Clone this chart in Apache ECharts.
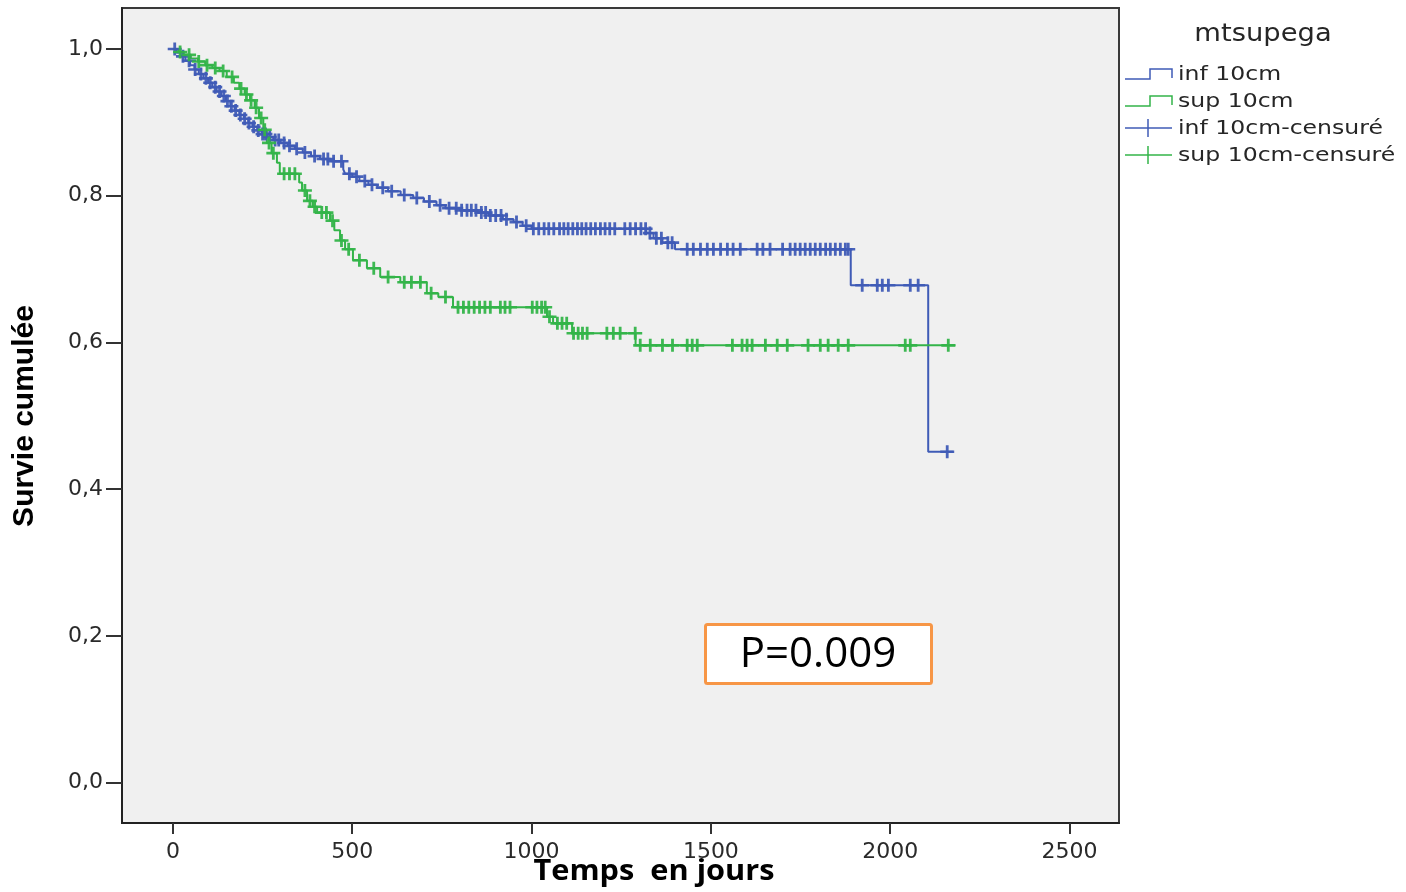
<!DOCTYPE html>
<html><head><meta charset="utf-8">
<script src="https://cdn.jsdelivr.net/npm/echarts@6/dist/echarts.min.js"></script>
<style>html,body{margin:0;padding:0;background:#fff}#c{width:1406px;height:892px}</style>
</head><body><div id="c"></div>
<script>
const xTicks=[0,500,1000,1500,2000,2500];
const yTicks=[0,0.2,0.4,0.6,0.8,1.0];
const seriesNames=['inf 10cm','sup 10cm','inf 10cm-censuré','sup 10cm-censuré'];
const blueTimes=[0,10,22,35,48,60,72,85,98,110,122,135,148,160,172,185,198,210,222,235,248,262,280,300,320,340,362,385,410,440,475,480,500,520,545,570,600,635,670,700,735,760,800,850,880,920,950,975,1000,1320,1340,1365,1400,1890,2106,2176];
const blueSurv=[1.000,0.995,0.990,0.984,0.978,0.972,0.966,0.960,0.954,0.948,0.942,0.936,0.929,0.922,0.916,0.910,0.905,0.899,0.894,0.889,0.884,0.880,0.876,0.872,0.868,0.864,0.859,0.854,0.850,0.847,0.836,0.830,0.826,0.820,0.815,0.811,0.806,0.801,0.797,0.792,0.787,0.783,0.780,0.777,0.773,0.768,0.764,0.759,0.755,0.749,0.742,0.736,0.727,0.678,0.451,0.451];
const greenTimes=[0,15,30,50,70,90,110,130,150,170,185,200,215,228,240,252,262,275,290,298,352,360,374,390,402,438,450,466,480,502,541,578,634,708,740,781,1043,1060,1113,1290,2182];
const greenSurv=[1.000,0.996,0.992,0.987,0.983,0.978,0.974,0.970,0.962,0.954,0.946,0.938,0.930,0.920,0.906,0.890,0.872,0.858,0.845,0.830,0.818,0.807,0.793,0.785,0.777,0.766,0.753,0.739,0.727,0.712,0.701,0.689,0.682,0.667,0.662,0.648,0.635,0.626,0.6125,0.596,0.596];
const blueCensor=[5,28,45,62,78,92,104,118,130,142,152,163,175,188,200,212,225,238,250,258,270,285,295,310,325,345,368,395,420,432,448,470,492,512,535,555,585,610,645,680,715,745,770,790,805,820,832,845,860,872,885,900,915,930,958,985,1005,1020,1035,1048,1062,1078,1090,1102,1115,1128,1140,1152,1165,1178,1192,1205,1218,1232,1260,1275,1290,1305,1318,1330,1348,1362,1380,1392,1434,1451,1471,1490,1507,1527,1546,1562,1582,1629,1645,1665,1700,1721,1735,1749,1763,1777,1791,1805,1820,1833,1847,1861,1875,1883,1922,1964,1978,1995,2056,2078,2159];
const greenCensor=[20,45,72,95,118,140,165,190,205,218,232,246,256,268,280,310,325,340,368,382,395,415,428,445,470,490,520,560,600,645,665,690,720,760,795,810,825,840,855,870,885,913,926,940,1002,1015,1028,1038,1050,1072,1085,1098,1117,1130,1142,1155,1210,1228,1247,1289,1303,1331,1365,1393,1434,1448,1462,1560,1587,1601,1615,1652,1685,1713,1771,1805,1827,1855,1883,2042,2056,2162];

const BLUE='#3F5BB6', GREEN='#33B449';
function survAt(times,surv,t){let s=surv[0];for(let i=0;i<times.length;i++){if(times[i]<=t)s=surv[i];else break;}return s;}
const zip=(a,b)=>a.map((v,i)=>[v,b[i]]);
const cross='path://M4,0H6V4H10V6H6V10H4V6H0V4H4Z';

const chart=echarts.init(document.getElementById('c'),null,{renderer:'canvas'});
const txt={fontFamily:'DejaVu Sans',fontSize:22,color:'#2a2a2a'};
chart.setOption({
  animation:false,
  backgroundColor:'#fff',
  grid:{left:122,top:8,right:287,bottom:69,show:true,backgroundColor:'#F0F0F0',borderColor:'#3a3a3a',borderWidth:2},
  xAxis:{type:'value',min:-142,max:2638,
    axisLine:{show:true,onZero:false,lineStyle:{color:'#222',width:2}},
    axisTick:{show:true,length:11,customValues:xTicks,lineStyle:{color:'#333',width:2}},
    axisLabel:{customValues:xTicks,margin:18,...txt,formatter:v=>String(v)},
    splitLine:{show:false}},
  yAxis:{type:'value',min:-0.0552,max:1.0559,
    axisLine:{show:true,onZero:false,lineStyle:{color:'#222',width:2}},
    axisTick:{show:true,length:16,customValues:yTicks,lineStyle:{color:'#333',width:2}},
    axisLabel:{customValues:yTicks,margin:19,...txt,formatter:v=>v.toFixed(1).replace('.',',')},
    splitLine:{show:false}},
  series:[
    {name:seriesNames[0],type:'line',step:'end',showSymbol:false,data:zip(blueTimes,blueSurv),lineStyle:{color:BLUE,width:2},itemStyle:{color:BLUE},z:3},
    {name:seriesNames[1],type:'line',step:'end',showSymbol:false,data:zip(greenTimes,greenSurv),lineStyle:{color:GREEN,width:2},itemStyle:{color:GREEN},z:4},
    {name:seriesNames[2],type:'scatter',symbol:cross,symbolSize:[14,13],data:blueCensor.map(t=>[t,survAt(blueTimes,blueSurv,t)]),itemStyle:{color:BLUE,opacity:0.95},z:5},
    {name:seriesNames[3],type:'scatter',symbol:cross,symbolSize:[14,13],data:greenCensor.map(t=>[t,survAt(greenTimes,greenSurv,t)]),itemStyle:{color:GREEN,opacity:0.95},z:6}
  ],
  graphic:[
    {type:'text',x:1263,y:35,scaleX:1.14,style:{text:'mtsupega',font:'24px "DejaVu Sans"',fill:'#262626',align:'center',verticalAlign:'middle'}},
    {type:'polyline',shape:{points:[[1125,79],[1150,79],[1150,69],[1172,69],[1172,78]]},style:{stroke:BLUE,lineWidth:1.5,fill:null}},
    {type:'polyline',shape:{points:[[1125,106],[1150,106],[1150,96],[1172,96],[1172,105]]},style:{stroke:GREEN,lineWidth:1.5,fill:null}},
    {type:'line',shape:{x1:1125,y1:128,x2:1172,y2:128},style:{stroke:BLUE,lineWidth:1.5}},
    {type:'line',shape:{x1:1148,y1:119,x2:1148,y2:137},style:{stroke:BLUE,lineWidth:1.5}},
    {type:'line',shape:{x1:1125,y1:155,x2:1172,y2:155},style:{stroke:GREEN,lineWidth:1.5}},
    {type:'line',shape:{x1:1148,y1:146,x2:1148,y2:164},style:{stroke:GREEN,lineWidth:1.5}},
    {type:'text',x:1178,y:75,scaleX:1.24,style:{text:seriesNames[0],font:'19px "DejaVu Sans"',fill:'#262626',verticalAlign:'middle'}},
    {type:'text',x:1178,y:102,scaleX:1.24,style:{text:seriesNames[1],font:'19px "DejaVu Sans"',fill:'#262626',verticalAlign:'middle'}},
    {type:'text',x:1178,y:129,scaleX:1.24,style:{text:seriesNames[2],font:'19px "DejaVu Sans"',fill:'#262626',verticalAlign:'middle'}},
    {type:'text',x:1178,y:156,scaleX:1.24,style:{text:seriesNames[3],font:'19px "DejaVu Sans"',fill:'#262626',verticalAlign:'middle'}},
    {type:'text',x:654,y:872,scaleX:1.06,style:{text:'Temps  en jours',font:'bold 29px "Open Sans"',fill:'#000',align:'center',verticalAlign:'middle'}},
    {type:'text',x:25,y:416,rotation:Math.PI/2,style:{text:'Survie cumulée',font:'bold 30px "Liberation Sans"',fill:'#000',align:'center',verticalAlign:'middle'}},
    {type:'rect',shape:{x:705.5,y:624.5,width:226,height:59,r:2},style:{fill:'#fff',stroke:'#F79646',lineWidth:3},z:10},
    {type:'text',x:818,y:655,z:11,style:{text:'P=0.009',font:'42px "Open Sans"',fill:'#000',align:'center',verticalAlign:'middle'}}
  ]
});
</script></body></html>
